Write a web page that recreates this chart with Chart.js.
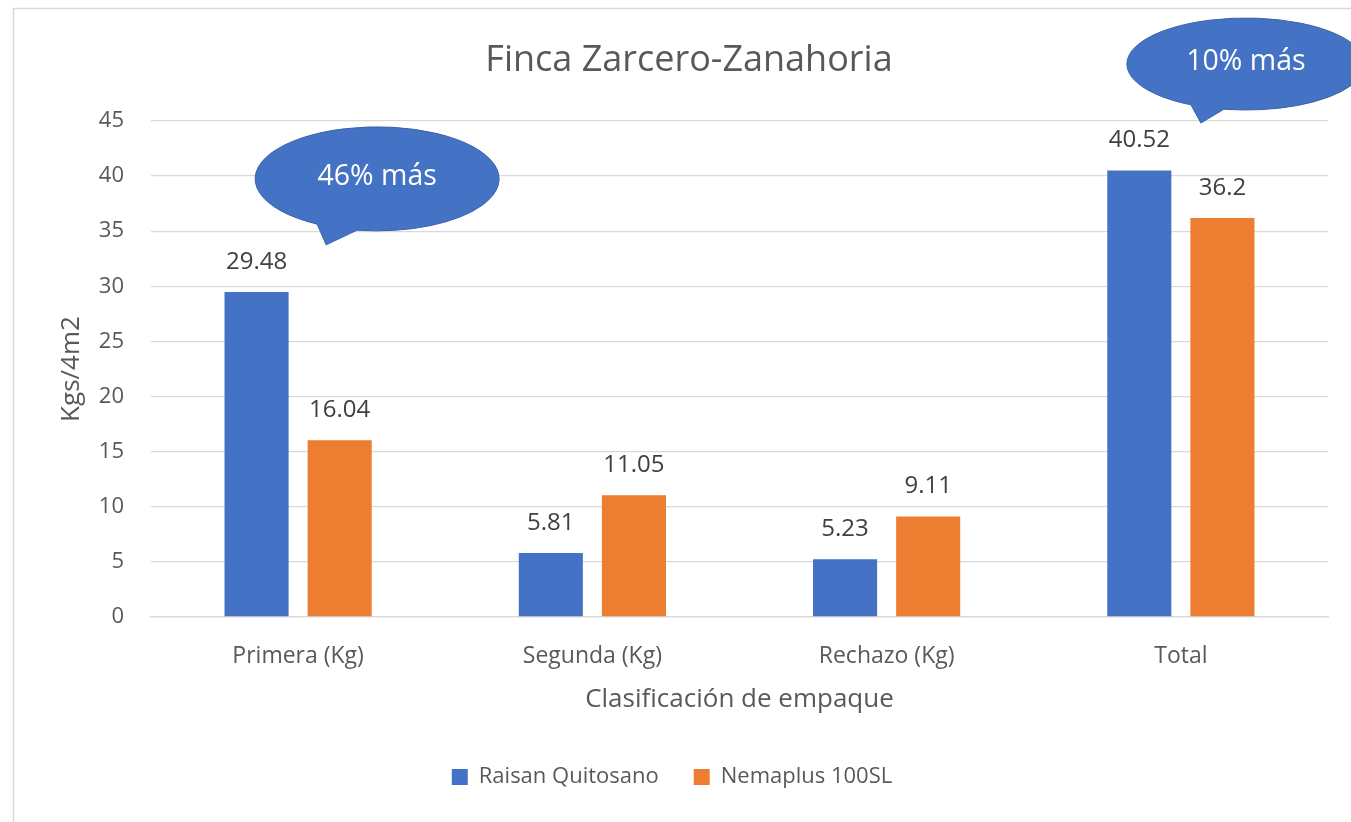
<!DOCTYPE html>
<html>
<head>
<meta charset="utf-8">
<script src="https://cdn.jsdelivr.net/npm/chart.js@4/dist/chart.umd.min.js"></script>
<style>
  html, body { margin: 0; padding: 0; background: #ffffff; }
  #wrap { width: 1351px; height: 822px; position: relative; }
</style>
</head>
<body>
<div id="wrap"><canvas id="c" width="1351" height="822"></canvas></div>
<script>
// ---- Data ----
const categories = ['Primera (Kg)', 'Segunda (Kg)', 'Rechazo (Kg)', 'Total'];
const raisanQuitosano = [29.48, 5.81, 5.23, 40.52];
const nemaplus100SL = [16.04, 11.05, 9.11, 36.2];
const seriesNames = ['Raisan Quitosano', 'Nemaplus 100SL'];
const yTicks = [0, 5, 10, 15, 20, 25, 30, 35, 40, 45];
const calloutTexts = ['46% más', '10% más'];
const calloutCategory = [0, 3];
const calloutValue = [39.75, 50.17];

const FONT = "'Open Sans', 'Noto Sans', sans-serif";
const BLUE = '#4472C4';
const ORANGE = '#ED7D31';

// callout shape styles (offsets in px relative to anchor)
const calloutStyle = [
  { dx: 79, rx: 122, ry: 52, baseDx: [-60, -20], tip: [-51, 66] },
  { dx: 65, rx: 119, ry: 46, baseDx: [-55, -22], tip: [-45, 59] }
];

const bgPlugin = {
  id: 'bg',
  beforeDraw(chart) {
    const ctx = chart.ctx;
    ctx.save();
    ctx.fillStyle = '#ffffff';
    ctx.fillRect(0, 0, chart.width, chart.height);
    ctx.strokeStyle = '#D9D9D9';
    ctx.lineWidth = 1.5;
    ctx.beginPath();
    ctx.moveTo(13.5, chart.height + 5);
    ctx.lineTo(13.5, 8.5);
    ctx.lineTo(chart.width + 5, 8.5);
    ctx.stroke();
    ctx.restore();
  }
};

// shift the legend box slightly left, as in the original layout
const legendShift = {
  id: 'legendShift',
  afterLayout(chart) {
    if (chart.legend) {
      chart.legend.left -= 17;
      chart.legend.right -= 17;
    }
  }
};

const valueLabels = {
  id: 'valueLabels',
  afterDatasetsDraw(chart) {
    const ctx = chart.ctx;
    ctx.save();
    ctx.font = '24px ' + FONT;
    ctx.fillStyle = '#404040';
    ctx.textAlign = 'center';
    ctx.textBaseline = 'middle';
    chart.data.datasets.forEach((ds, di) => {
      const meta = chart.getDatasetMeta(di);
      meta.data.forEach((bar, i) => {
        ctx.fillText(String(ds.data[i]), bar.x, bar.y - 30);
      });
    });
    ctx.restore();
  }
};

const callouts = {
  id: 'callouts',
  afterDraw(chart) {
    const ctx = chart.ctx;
    const xs = chart.scales.x, ys = chart.scales.y;
    calloutTexts.forEach((txt, k) => {
      const st = calloutStyle[k];
      const cx = xs.getPixelForValue(calloutCategory[k]) + st.dx;
      const cy = ys.getPixelForValue(calloutValue[k]);
      const tA = Math.acos(Math.max(-1, Math.min(1, st.baseDx[0] / st.rx)));
      const tB = Math.acos(Math.max(-1, Math.min(1, st.baseDx[1] / st.rx)));
      ctx.save();
      ctx.beginPath();
      ctx.ellipse(cx, cy, st.rx, st.ry, 0, tA, tB + Math.PI * 2);
      ctx.lineTo(cx + st.tip[0], cy + st.tip[1]);
      ctx.closePath();
      ctx.fillStyle = BLUE;
      ctx.fill();
      ctx.strokeStyle = '#3A63AE';
      ctx.lineWidth = 1;
      ctx.stroke();
      ctx.fillStyle = '#ffffff';
      ctx.font = '28.5px ' + FONT;
      ctx.textAlign = 'center';
      ctx.textBaseline = 'middle';
      ctx.fillText(txt, cx, cy - 2);
      ctx.restore();
    });
  }
};

new Chart(document.getElementById('c'), {
  type: 'bar',
  data: {
    labels: categories,
    datasets: [
      { label: seriesNames[0], data: raisanQuitosano, backgroundColor: BLUE,
        categoryPercentage: 0.565, barPercentage: 0.771 },
      { label: seriesNames[1], data: nemaplus100SL, backgroundColor: ORANGE,
        categoryPercentage: 0.565, barPercentage: 0.771 }
    ]
  },
  options: {
    responsive: false,
    animation: false,
    devicePixelRatio: 1,
    layout: { padding: { left: 50, right: 23, top: 39, bottom: 24 } },
    plugins: {
      title: {
        display: true,
        text: 'Finca Zarcero-Zanahoria',
        color: '#595959',
        font: { family: FONT, size: 36, weight: 'normal', lineHeight: 1.2 },
        padding: { top: 0, bottom: 38.8 }
      },
      legend: {
        position: 'bottom',
        labels: {
          color: '#595959',
          font: { family: FONT, size: 22 },
          boxWidth: 16, boxHeight: 16,
          padding: 35
        }
      },
      tooltip: { enabled: false }
    },
    scales: {
      x: {
        grid: { display: false },
        border: { display: true, color: '#D9D9D9', width: 1.3 },
        ticks: { color: '#595959', font: { family: FONT, size: 23 }, padding: 18, maxRotation: 0 },
        title: {
          display: true, text: 'Clasificación de empaque', color: '#595959',
          font: { family: FONT, size: 26, lineHeight: 1.2 },
          padding: { top: 0, bottom: 15.4 }
        },
        afterFit(s) { s.height = 114; }
      },
      y: {
        min: 0, max: 45,
        afterBuildTicks(s) { s.ticks = yTicks.map(v => ({ value: v })); },
        grid: { color: '#D9D9D9', lineWidth: 1.3, drawTicks: false },
        border: { display: false },
        ticks: { color: '#595959', font: { family: FONT, size: 22 }, padding: 27 },
        title: {
          display: true, text: 'Kgs/4m2', color: '#595959',
          font: { family: FONT, size: 26, lineHeight: 1.2 },
          padding: { top: 6.4, bottom: 0 }
        },
        afterFit(s) { s.width = 101; }
      }
    }
  },
  plugins: [bgPlugin, legendShift, valueLabels, callouts]
});
</script>
</body>
</html>
